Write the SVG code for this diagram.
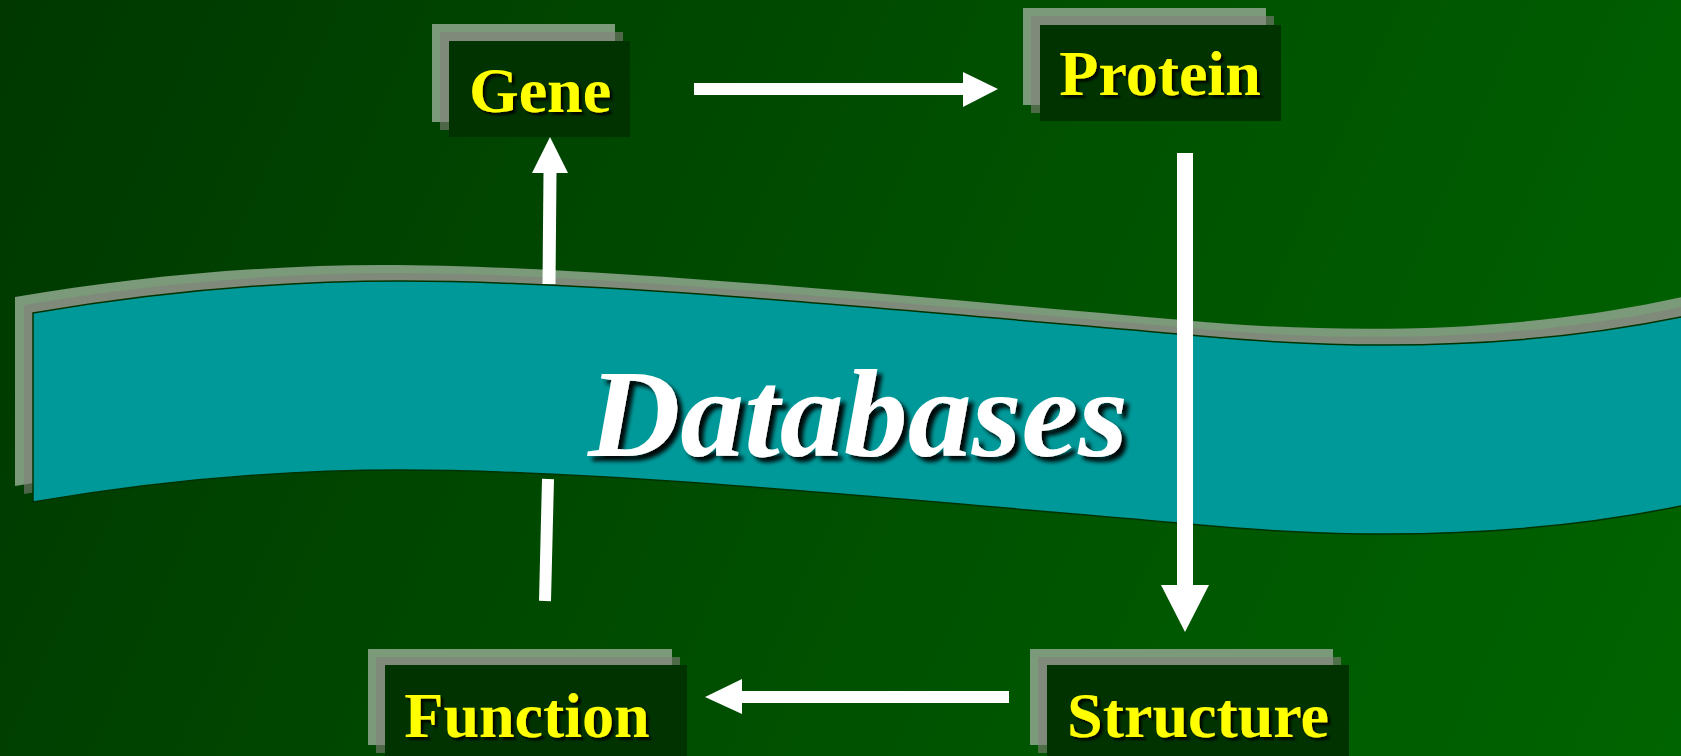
<svg xmlns="http://www.w3.org/2000/svg" xmlns:xlink="http://www.w3.org/1999/xlink" width="1681" height="756" viewBox="0 0 1681 756">
  <defs>
    <linearGradient id="bg" gradientUnits="userSpaceOnUse" x1="0" y1="0" x2="1681" y2="756">
      <stop offset="0" stop-color="#003800"/>
      <stop offset="1" stop-color="#006400"/>
    </linearGradient>
    <path id="bandShape" d="M33,313 C150,293 280,281 400,281 C600,281 900,310 1200,336 C1350,350 1520,350 1681,317 L1700,313 L1700,502 L1681,506 C1520,539 1350,539 1200,525 C900,499 600,470 400,470 C280,470 150,482 33,502 Z"/>
    <filter id="labelShadow" x="-10%" y="-20%" width="130%" height="150%">
      <feDropShadow dx="3" dy="3" stdDeviation="1.2" flood-color="#000" flood-opacity="0.85"/>
    </filter>
    <filter id="titleShadow" x="-10%" y="-20%" width="130%" height="150%">
      <feDropShadow dx="5" dy="5" stdDeviation="2" flood-color="#000" flood-opacity="0.95"/>
    </filter>
  </defs>
  <style>
    .frame { fill: #7a9a7a; }
    .shade { fill: #84807a; fill-opacity: 0.59; }
    .box { fill: #003300; }
    .label { font-family: "Liberation Serif", "Times New Roman", serif; font-weight: bold; font-size: 64px; fill: #ffff00; text-anchor: middle; filter: url(#labelShadow); }
    .title { font-family: "Liberation Serif", "Times New Roman", serif; font-weight: bold; font-style: italic; font-size: 124px; fill: #ffffff; text-anchor: middle; filter: url(#titleShadow); }
    .band { fill: #009999; stroke: #003300; stroke-width: 1.5; }
    .shaft { stroke: #ffffff; fill: none; }
    .head { fill: #ffffff; }
  </style>

  <!-- background -->
  <rect width="1681" height="756" fill="url(#bg)"/>

  <!-- databases band -->
  <g id="databases">
    <use href="#bandShape" class="frame" transform="translate(-18,-16)"/>
    <use href="#bandShape" class="shade" transform="translate(-9,-8)"/>
    <use href="#bandShape" class="band"/>
    <text class="title" x="858" y="456" textLength="540" lengthAdjust="spacingAndGlyphs">Databases</text>
  </g>

  <!-- nodes -->
  <g id="gene">
    <rect class="frame" x="432" y="24" width="183" height="98"/>
    <rect class="shade" x="440" y="32" width="183" height="98"/>
    <rect class="box" x="449" y="41" width="181" height="96"/>
    <text class="label" x="540" y="112">Gene</text>
  </g>

  <g id="protein">
    <rect class="frame" x="1023" y="8" width="243" height="97"/>
    <rect class="shade" x="1031" y="16" width="243" height="97"/>
    <rect class="box" x="1040" y="25" width="241" height="96"/>
    <text class="label" x="1160" y="95">Protein</text>
  </g>

  <g id="function">
    <rect class="frame" x="368" y="649" width="304" height="96"/>
    <rect class="shade" x="376" y="657" width="304" height="96"/>
    <rect class="box" x="385" y="665" width="302" height="100"/>
    <text class="label" x="527" y="737">Function</text>
  </g>

  <g id="structure">
    <rect class="frame" x="1030" y="649" width="303" height="96"/>
    <rect class="shade" x="1038" y="657" width="303" height="96"/>
    <rect class="box" x="1047" y="665" width="302" height="100"/>
    <text class="label" x="1198" y="737">Structure</text>
  </g>

  <!-- connectors -->
  <g id="connectors">
    <!-- Gene to Protein -->
    <line class="shaft" x1="694" y1="89" x2="964" y2="89" stroke-width="12"/>
    <polygon class="head" points="963,72 998,89 963,107"/>
    <!-- Protein to Structure -->
    <line class="shaft" x1="1185" y1="153" x2="1185" y2="586" stroke-width="16"/>
    <polygon class="head" points="1161,585 1209,585 1185,632"/>
    <!-- Structure to Function -->
    <line class="shaft" x1="741" y1="697" x2="1009" y2="697" stroke-width="12"/>
    <polygon class="head" points="742,679 705,697 742,714"/>
    <!-- Function up to the band -->
    <line class="shaft" x1="548" y1="479" x2="545" y2="601" stroke-width="12"/>
    <!-- band up to Gene -->
    <line class="shaft" x1="549" y1="284" x2="550" y2="172" stroke-width="13"/>
    <polygon class="head" points="532,173 568,173 550,137"/>
  </g>
</svg>
